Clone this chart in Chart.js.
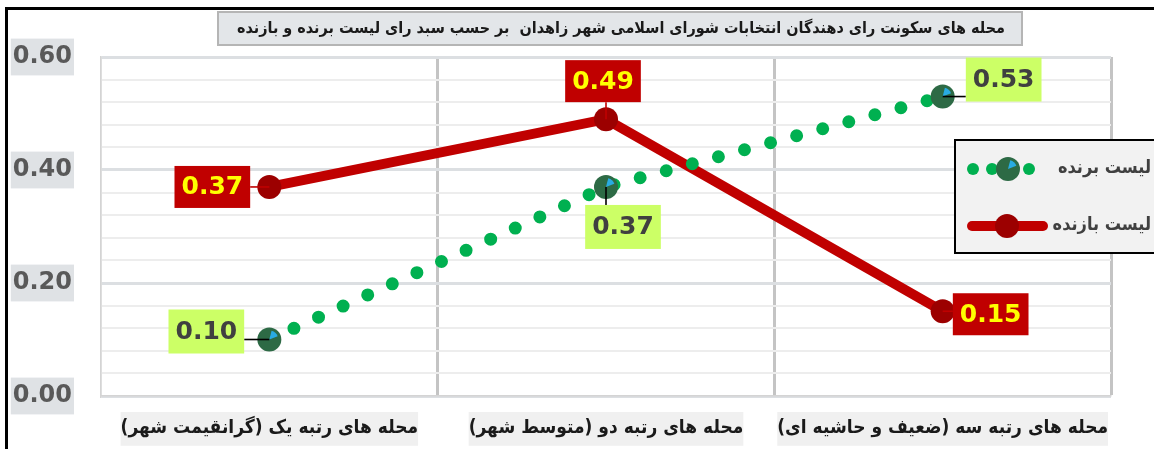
<!DOCTYPE html>
<html lang="fa">
<head>
<meta charset="utf-8">
<title>محله های سکونت رای دهندگان</title>
<script src="https://cdn.jsdelivr.net/npm/chart.js@4.4.1/dist/chart.umd.min.js"></script>
<style>
    body { margin: 0; background: #fff; }
    .contenedor { width: 1154px; height: 449px; }
</style>
</head>
<body>
<div class="contenedor"><canvas id="grafica" dir="rtl"></canvas></div>
<script>
const titulo = "محله های سکونت رای دهندگان انتخابات شورای اسلامی شهر زاهدان  بر حسب سبد رای لیست برنده و بازنده"
const categorias = ["محله های رتبه یک (گرانقیمت شهر)", "محله های رتبه دو (متوسط شهر)", "محله های رتبه سه (ضعیف و حاشیه ای)"]
const nombresSeries = ["لیست برنده", "لیست بازنده"]
const listaGanadora = [0.10, 0.37, 0.53]
const listaPerdedora = [0.37, 0.49, 0.15]
const ticksEje = [0, 0.2, 0.4, 0.6]

const fuente = "'DejaVu Sans', sans-serif"
const fuenteEstrecha = "'DejaVu Sans Condensed', 'DejaVu Sans', sans-serif"
const esPrincipal = v => ticksEje.some(t => Math.abs(t - v) < 1e-6)

// Etiquetas de datos: cajas con linea guia
function dibujarEtiquetas(chart) {
    const ctx = chart.ctx
    chart.data.datasets.forEach((serie, i) => {
        const meta = chart.getDatasetMeta(i)
        const et = serie.etiquetas
        meta.data.forEach((punto, j) => {
            const texto = serie.data[j].toFixed(2)
            ctx.save()

            // cuña azul del marcador (solo la serie verde)
            if (et.cuna) {
                ctx.fillStyle = et.cuna
                ctx.beginPath()
                ctx.moveTo(punto.x, punto.y)
                ctx.arc(punto.x, punto.y, 9, -Math.PI * 0.42, -Math.PI * 0.12)
                ctx.closePath()
                ctx.fill()
            }

            ctx.font = "bold 25px " + fuente
            const ancho = ctx.measureText(texto).width + 14
            const alto = et.alto
            const cx = punto.x + et.desplazamientos[j][0]
            const cy = punto.y + et.desplazamientos[j][1]
            const bx = cx - ancho / 2
            const by = cy - alto / 2

            // linea guia
            const ex = Math.min(Math.max(punto.x, bx), bx + ancho)
            const ey = Math.min(Math.max(punto.y, by), by + alto)
            ctx.strokeStyle = et.linea
            ctx.lineWidth = 1.6
            ctx.beginPath()
            ctx.moveTo(ex, ey)
            ctx.lineTo(punto.x, punto.y)
            ctx.stroke()

            ctx.fillStyle = et.fondo
            ctx.fillRect(bx, by, ancho, alto)
            ctx.fillStyle = et.texto
            ctx.textAlign = "center"
            ctx.textBaseline = "middle"
            ctx.direction = "ltr"
            ctx.fillText(texto, cx, cy + 1)
            ctx.restore()
        })
    })
}

function dibujarTitulo(chart) {
    const ctx = chart.ctx
    ctx.save()
    ctx.fillStyle = "#e3e6e9"
    ctx.fillRect(218, 12, 804, 33)
    ctx.strokeStyle = "#b5b5b5"
    ctx.lineWidth = 2
    ctx.strokeRect(218, 12, 804, 33)
    ctx.fillStyle = "#1a1a1a"
    ctx.font = "bold 16px " + fuenteEstrecha
    ctx.textAlign = "center"
    ctx.textBaseline = "middle"
    ctx.fillText(titulo, 621, 29)
    ctx.restore()
}

function dibujarLeyenda(chart) {
    const ctx = chart.ctx
    const [verde, roja] = chart.data.datasets
    ctx.save()
    ctx.fillStyle = "#f2f2f2"
    ctx.fillRect(955, 140, 210, 113)
    ctx.strokeStyle = "#000"
    ctx.lineWidth = 2
    ctx.strokeRect(955, 140, 210, 113)

    // fila 1: puntos verdes
    ctx.fillStyle = verde.borderColor;
    [973, 992, 1029].forEach(x => {
        ctx.beginPath()
        ctx.arc(x, 169, 6, 0, Math.PI * 2)
        ctx.fill()
    })
    ctx.fillStyle = verde.pointBackgroundColor
    ctx.beginPath()
    ctx.arc(1008, 169, 12, 0, Math.PI * 2)
    ctx.fill()
    ctx.fillStyle = verde.etiquetas.cuna
    ctx.beginPath()
    ctx.moveTo(1008, 169)
    ctx.arc(1008, 169, 9, -Math.PI * 0.42, -Math.PI * 0.12)
    ctx.closePath()
    ctx.fill()

    // fila 2: linea roja
    ctx.strokeStyle = roja.borderColor
    ctx.lineWidth = 10
    ctx.lineCap = "round"
    ctx.beginPath()
    ctx.moveTo(972, 226)
    ctx.lineTo(1043, 226)
    ctx.stroke()
    ctx.fillStyle = roja.pointBackgroundColor
    ctx.beginPath()
    ctx.arc(1007, 226, 12, 0, Math.PI * 2)
    ctx.fill()

    ctx.fillStyle = "#404040"
    ctx.font = "bold 18px " + fuenteEstrecha
    ctx.textAlign = "right"
    ctx.textBaseline = "middle"
    ctx.fillText(verde.label, 1151, 168)
    ctx.fillText(roja.label, 1151, 225)
    ctx.restore()
}

const decorado = {
    id: "decorado",
    beforeDraw(chart) {
        const ctx = chart.ctx
        ctx.save()
        ctx.fillStyle = "#fff"
        ctx.fillRect(0, 0, chart.width, chart.height)
        ctx.restore()
    },
    afterDatasetsDraw(chart) {
        dibujarEtiquetas(chart)
    },
    afterDraw(chart) {
        const ctx = chart.ctx
        ctx.save()
        ctx.fillStyle = "#000"
        ctx.fillRect(5, 7, chart.width - 5, 3)
        ctx.fillRect(5, 7, 3, chart.height - 7)
        ctx.restore()
        dibujarTitulo(chart)
        dibujarLeyenda(chart)
    }
}

const ctx = document.getElementById("grafica")
new Chart(ctx, {
    type: "line",
    data: {
        labels: categorias,
        datasets: [{
            label: nombresSeries[0],
            data: listaGanadora,
            borderColor: "#00b050",
            borderWidth: 13,
            borderDash: [0, 27],
            borderCapStyle: "round",
            pointRadius: 12,
            pointHoverRadius: 12,
            pointBorderWidth: 0,
            pointBackgroundColor: "#2d6a45",
            tension: 0,
            etiquetas: {
                desplazamientos: [[-63, -8], [17, 40], [61, -17]],
                alto: 44,
                fondo: "#ccff66",
                texto: "#404040",
                linea: "#000",
                cuna: "#29abe2"
            }
        },
        {
            label: nombresSeries[1],
            data: listaPerdedora,
            borderColor: "#c00000",
            borderWidth: 10,
            borderCapStyle: "round",
            pointRadius: 12,
            pointHoverRadius: 12,
            pointBorderWidth: 0,
            pointBackgroundColor: "#9c0000",
            tension: 0,
            etiquetas: {
                desplazamientos: [[-57, 0], [-3, -38], [48, 3]],
                alto: 42,
                fondo: "#c00000",
                texto: "#ffff00",
                linea: "#c00000"
            }
        }]
    },
    options: {
        responsive: true,
        maintainAspectRatio: false,
        animation: false,
        layout: { padding: { top: 57, left: 8, right: 43, bottom: 0 } },
        plugins: {
            legend: { display: false },
            title: { display: false },
            tooltip: { enabled: false }
        },
        scales: {
            x: {
                offset: true,
                afterFit: s => { s.height = 53 },
                grid: {
                    offset: true,
                    drawTicks: false,
                    color: c => (c.index === 0 || c.index === 3) ? "#d4d4d4" : "#c4c4c4",
                    lineWidth: c => (c.index === 0 || c.index === 3) ? 1.5 : 3
                },
                border: { display: true, color: "#d4d4d4", width: 1.5 },
                ticks: {
                    autoSkip: false,
                    maxRotation: 0,
                    padding: 21,
                    color: "#1a1a1a",
                    font: { family: fuenteEstrecha, size: 19, weight: "bold" },
                    showLabelBackdrop: true,
                    backdropColor: "#f0f0f0",
                    backdropPadding: { top: 5, bottom: 6, left: 0, right: 0 }
                }
            },
            y: {
                min: 0,
                max: 0.6,
                afterFit: s => { s.width = 93 },
                grid: {
                    drawTicks: false,
                    color: c => esPrincipal(c.tick.value) ? "#dcdfe2" : "#ededed",
                    lineWidth: c => esPrincipal(c.tick.value) ? 3 : 2
                },
                border: { display: true, color: "#d4d4d4", width: 1.5 },
                ticks: {
                    stepSize: 0.04,
                    autoSkip: false,
                    padding: 29,
                    color: "#595959",
                    font: { family: fuente, size: 24, weight: "bold" },
                    callback: v => esPrincipal(v) ? v.toFixed(2) : "",
                    showLabelBackdrop: c => esPrincipal(c.tick.value),
                    backdropColor: "#dfe2e5",
                    backdropPadding: { top: 4, bottom: 4, left: 2, right: 2 }
                }
            }
        }
    },
    plugins: [decorado]
})
</script>
</body>
</html>
